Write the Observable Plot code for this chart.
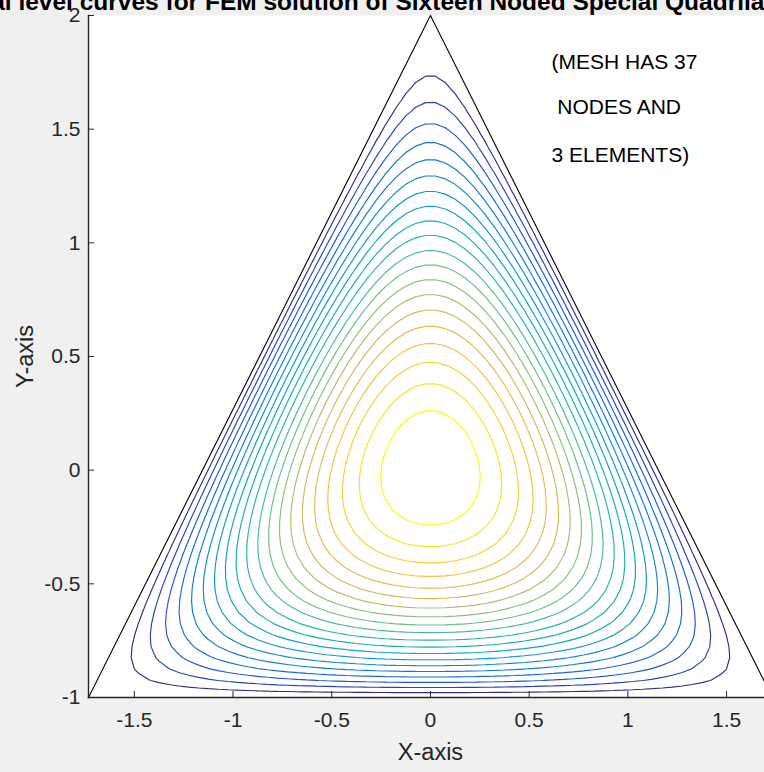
<!DOCTYPE html>
<html>
<head>
<meta charset="utf-8">
<script src="https://cdn.jsdelivr.net/npm/d3@7"></script>
<script src="https://cdn.jsdelivr.net/npm/@observablehq/plot@0.6"></script>
<style>
  html, body { margin: 0; padding: 0; background: #f0f0f0; }
  #chart { width: 764px; height: 772px; overflow: hidden; }
</style>
</head>
<body>
<div id="chart"></div>
<script>
// Corners of the equilateral triangle domain (x, y)
const cornerX = [-1.7320508, 0, 1.7320508];
const cornerY = [-1, 2, -1];

// Contour levels of the solution u (maximum 4 at the centroid)
const levels = [0.19, 0.38, 0.57, 0.76, 0.95, 1.14, 1.33, 1.52, 1.71, 1.90,
                2.10, 2.29, 2.48, 2.67, 2.86, 3.05, 3.24, 3.43, 3.62, 3.81];

// Axis ticks
const xTicks = [-1.5, -1, -0.5, 0, 0.5, 1, 1.5];
const yTicks = [-1, -0.5, 0, 0.5, 1, 1.5, 2];

// Mesh note placed in the upper right corner
const noteLines = ["(MESH HAS 37", "\u00a0NODES AND", "3 ELEMENTS)"];
const noteY = [1.793, 1.595, 1.384];
const noteX = 0.613;

const titleText = "Typical level curves for FEM solution of Sixteen Noded Special Quadrilateral Elements";

// Parula colormap anchors: [position, r, g, b]
const parula = [
  [0 / 63, 0.2081, 0.1663, 0.5292],
  [6 / 63, 0.1253, 0.3242, 0.8303],
  [12 / 63, 0.0498, 0.4586, 0.8641],
  [18 / 63, 0.0641, 0.5570, 0.8240],
  [24 / 63, 0.0228, 0.6535, 0.7768],
  [30 / 63, 0.1453, 0.7098, 0.6646],
  [36 / 63, 0.3953, 0.7459, 0.5244],
  [42 / 63, 0.6473, 0.7456, 0.4188],
  [48 / 63, 0.8507, 0.7299, 0.3360],
  [53 / 63, 0.9938, 0.7455, 0.2403],
  [57 / 63, 0.9789, 0.8271, 0.1633],
  [63 / 63, 0.9763, 0.9831, 0.0538]
];
const parulaScale = d3.scaleLinear()
  .domain(parula.map(d => d[0]))
  .range(parula.map(d => d3.rgb(d[1] * 255, d[2] * 255, d[3] * 255).formatHex()))
  .interpolate(d3.interpolateRgb)
  .clamp(true);

// Solution of -∇²u = 12 with u = 0 on the sides: the product of the
// three side functions y + 1, 2 - y - √3x and 2 - y + √3x.
const s3 = Math.sqrt(3);
function u(x, y) {
  const a = y + 1, b = 2 - y - s3 * x, c = 2 - y + s3 * x;
  const p = a * b * c;
  return (a < 0 || b < 0 || c < 0) ? -Math.abs(p) : p;
}

const font = "'Liberation Sans', Arial, Helvetica, sans-serif";
const axisColor = "#262626";

const corners = cornerX.map((x, i) => ({x, y: cornerY[i]}));
const notes = noteLines.map((t, i) => ({t, x: noteX, y: noteY[i]}));

const chart = Plot.plot({
  width: 764,
  height: 772,
  marginTop: 15,
  marginLeft: 88,
  marginRight: 0,
  marginBottom: 75,
  style: {background: "#f0f0f0", fontFamily: font, fontSize: "21px", color: axisColor},
  x: {domain: [-1.7320508, 1.692], ticks: xTicks, tickFormat: d => String(d)},
  y: {domain: [-1, 2], ticks: yTicks, tickFormat: d => String(d)},
  color: {type: "linear", domain: [levels[0], levels[levels.length - 1]], interpolate: t => parulaScale(t)},
  marks: [
    Plot.frame({fill: "white", stroke: null}),
    Plot.contour({
      value: u,
      x1: -1.8, x2: 1.8, y1: -1.05, y2: 2.05,
      width: 72, height: 62,
      thresholds: levels,
      stroke: "value",
      strokeWidth: 1.15,
      clip: true
    }),
    Plot.line(corners, {x: "x", y: "y", curve: "linear-closed", stroke: "black", strokeWidth: 1.1, clip: true}),
    Plot.text(notes, {x: "x", y: "y", text: "t", textAnchor: "start", fontSize: 21, fill: "black"}),
    Plot.axisX(xTicks, {anchor: "bottom", tickSize: -6, tickPadding: 21, tickFormat: d => String(d), label: null, stroke: axisColor, fill: axisColor, fontSize: 21}),
    Plot.axisY(yTicks, {anchor: "left", tickSize: -6, tickPadding: 14, tickFormat: d => String(d), label: null, stroke: axisColor, fill: axisColor, fontSize: 21}),
    Plot.frame({anchor: "left", stroke: axisColor, strokeWidth: 1.4}),
    Plot.frame({anchor: "bottom", stroke: axisColor, strokeWidth: 1.6}),
    Plot.text([{x: 0, t: "X-axis"}], {x: "x", text: "t", frameAnchor: "bottom", lineAnchor: "middle", dy: 55, fontSize: 23.5, fill: axisColor}),
    Plot.text([{y: 0.5, t: "Y-axis"}], {y: "y", text: "t", frameAnchor: "left", textAnchor: "middle", lineAnchor: "middle", dx: -63, rotate: -90, fontSize: 23.5, fill: axisColor}),
    Plot.text([{x: 0, t: titleText}], {x: "x", text: "t", frameAnchor: "top", textAnchor: "middle", dy: -6, lineAnchor: "bottom", fontSize: 24.5, fontWeight: "bold", fill: "black"})
  ]
});

document.getElementById("chart").appendChild(chart);
</script>
</body>
</html>
